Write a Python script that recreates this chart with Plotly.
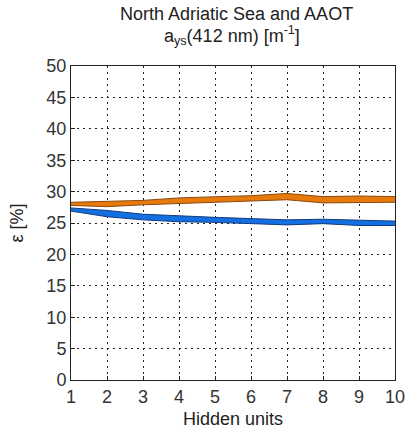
import plotly.graph_objects as go

hidden_units = [1, 2, 3, 4, 5, 6, 7, 8, 9, 10]
orange_upper = [28.3, 28.4, 28.6, 29.0, 29.2, 29.35, 29.7, 29.2, 29.3, 29.2]
orange_lower = [27.8, 27.6, 27.9, 28.1, 28.3, 28.5, 28.7, 28.2, 28.3, 28.3]
blue_upper = [27.4, 27.0, 26.4, 26.1, 25.9, 25.7, 25.5, 25.6, 25.4, 25.3]
blue_lower = [26.9, 26.0, 25.5, 25.2, 25.1, 24.9, 24.7, 24.9, 24.6, 24.6]

y_ticks = list(range(0, 51, 5))

fig = go.Figure()

def band(upper, lower, fill, edge):
    fig.add_trace(go.Scatter(x=hidden_units, y=lower, mode="lines",
                             line=dict(color=edge, width=1), showlegend=False, hoverinfo="skip"))
    fig.add_trace(go.Scatter(x=hidden_units, y=upper, mode="lines", fill="tonexty",
                             fillcolor=fill, line=dict(color=edge, width=1),
                             showlegend=False, hoverinfo="skip"))

band(orange_upper, orange_lower, "#E87A0C", "#8A4A10")
band(blue_upper, blue_lower, "#1470E0", "#103C80")

axis_common = dict(showline=True, linecolor="#222", linewidth=1, mirror=True,
                   ticks="inside", ticklen=4, tickcolor="#222", automargin=False,
                   showgrid=True, gridcolor="#222", griddash="2px,4px", gridwidth=1,
                   zeroline=False, tickfont=dict(size=18, color="#333"))

fig.update_layout(
    width=408, height=429,
    margin=dict(l=71, r=13, t=66, b=49),
    paper_bgcolor="white", plot_bgcolor="white",
    font=dict(family="Liberation Sans, Arial, sans-serif", color="#222"),
    xaxis=dict(range=[1, 10], tickvals=hidden_units,
               title=dict(text="Hidden units", font=dict(size=18), standoff=6), **axis_common),
    yaxis=dict(range=[0, 50], tickvals=y_ticks,
               title=dict(text="ε [%]", font=dict(size=18), standoff=18), **axis_common),
    annotations=[
        dict(text="North Adriatic Sea and AAOT", xref="paper", yref="paper",
             x=0.511, y=1.165, xanchor="center", yanchor="middle", showarrow=False,
             font=dict(size=18, color="#222")),
        dict(text="a<sub>ys</sub>(412 nm) [m<sup>-1</sup>]", xref="paper", yref="paper",
             x=0.497, y=1.098, xanchor="center", yanchor="middle", showarrow=False,
             font=dict(size=18, color="#222")),
    ],
)

fig.write_html("out.html")
